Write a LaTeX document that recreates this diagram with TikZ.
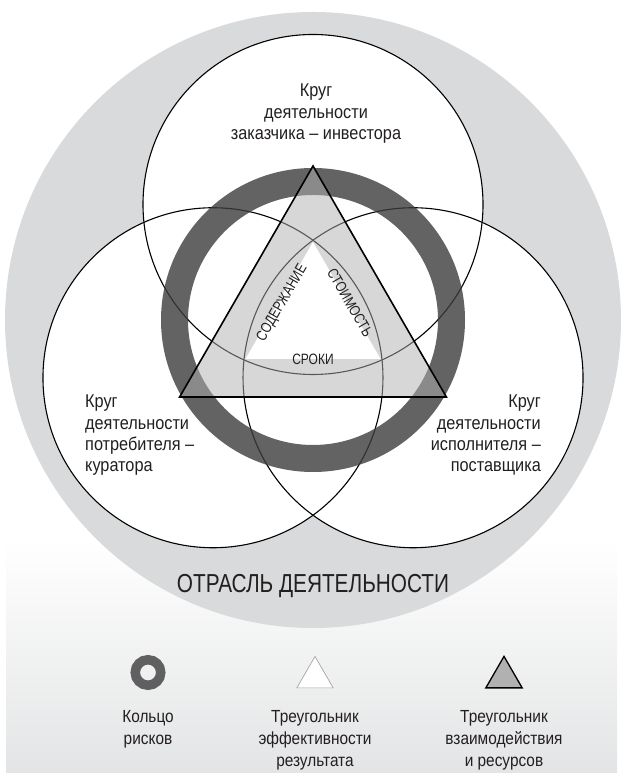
\documentclass[tikz,border=0pt]{standalone}
\usepackage{fontspec}
\setmainfont{Liberation Sans}[FakeStretch=0.88]
\newfontfamily\capsfont{Liberation Sans}[FakeStretch=0.8]
\usetikzlibrary{shapes.geometric}

\definecolor{fieldgray}{HTML}{D9DADB}
\definecolor{floorgray}{HTML}{E3E4E5}
\definecolor{riskgray}{HTML}{3C3C3E}
\definecolor{resgray}{HTML}{B1B1B1}
\definecolor{inkgray}{HTML}{231F20}

\begin{document}
\begin{tikzpicture}[x=1pt,y=1pt,
  circline/.style={line width=1.1pt},
  circlabel/.style={font=\fontsize{18.5}{21.3}\selectfont,text=inkgray,inner sep=0pt},
  sidelabel/.style={font=\capsfont\fontsize{15}{17}\selectfont,text=inkgray,inner sep=0pt},
  legendlabel/.style={font=\fontsize{17.5}{22}\selectfont,align=center,text=inkgray,
    inner sep=0pt,anchor=north},
  legendtri/.style={regular polygon,regular polygon sides=3,minimum size=42pt,inner sep=0pt}]
  \useasboundingbox (0,0) rectangle (623,773);
  \coordinate (O) at (313,453);

  % floor and field
  \shade[top color=white,bottom color=floorgray] (6,0) rectangle (617,233);
  \fill[fieldgray] (O) circle[radius=308pt];

  % circles of activity
  \path (O) ++(90:115.5) coordinate (cust)
        (O) ++(210:115.5) coordinate (cons)
        (O) ++(330:115.5) coordinate (supp);
  \foreach \c in {cust,cons,supp}
    \fill[white] (\c) circle[radius=170pt];
  \foreach \c in {cust,cons,supp}
    \draw[circline] (\c) circle[radius=170pt];

  % ring of risks
  \fill[riskgray,opacity=0.8,even odd rule]
    (O) circle[radius=152pt] (O) circle[radius=125pt];

  % triangles
  \path (O) ++(90:154) coordinate (resA)
        (O) ++(210:154) coordinate (resB)
        (O) ++(330:154) coordinate (resC);
  \path (O) ++(90:78) coordinate (effA)
        (O) ++(210:78) coordinate (effB)
        (O) ++(330:78) coordinate (effC);
  \fill[resgray,opacity=0.5] (resA) -- (resB) -- (resC) -- cycle;
  \fill[white] (effA) -- (effB) -- (effC) -- cycle;
  \draw[line width=1.6pt] (resA) -- (resB) -- (resC) -- cycle;

  % labels
  \node[circlabel,align=center,anchor=north] (custtext) at (316,689)
    {Круг\\деятельности\\заказчика – инвестора};
  \node[circlabel,align=left,anchor=north west] (constext) at (85,378)
    {Круг\\деятельности\\потребителя –\\куратора};
  \node[circlabel,align=right,anchor=north east] (supptext) at (541,378)
    {Круг\\деятельности\\исполнителя –\\поставщика};
  \path (O) ++(151:35) node[sidelabel,rotate=60] (content) {СОДЕРЖАНИЕ}
        (O) ++(25:41) node[sidelabel,rotate=-60] (cost) {СТОИМОСТЬ}
        (O) ++(270:39) node[sidelabel] (terms) {СРОКИ};
  \node[font=\capsfont\fontsize{26}{30}\selectfont,text=inkgray,inner sep=0pt]
    (industry) at (313,187) {ОТРАСЛЬ ДЕЯТЕЛЬНОСТИ};

  % legend
  \node[circle,draw=riskgray,draw opacity=0.8,line width=9.5pt,minimum size=25.5pt,
    inner sep=0pt] (riskicon) at (148,100.5) {};
  \node[legendtri,fill=white,draw=gray!70,line width=0.7pt] (efficon) at (315,95.6) {};
  \node[legendtri,fill=resgray,draw=black,line width=1.3pt] (resicon) at (504,95.6) {};
  \node[legendlabel] (risktext) at (148,63) {Кольцо\\рисков};
  \node[legendlabel] (efftext) at (315,63) {Треугольник\\эффективности\\результата};
  \node[legendlabel] (restext) at (504,63) {Треугольник\\взаимодействия\\и ресурсов};
\end{tikzpicture}
\end{document}
